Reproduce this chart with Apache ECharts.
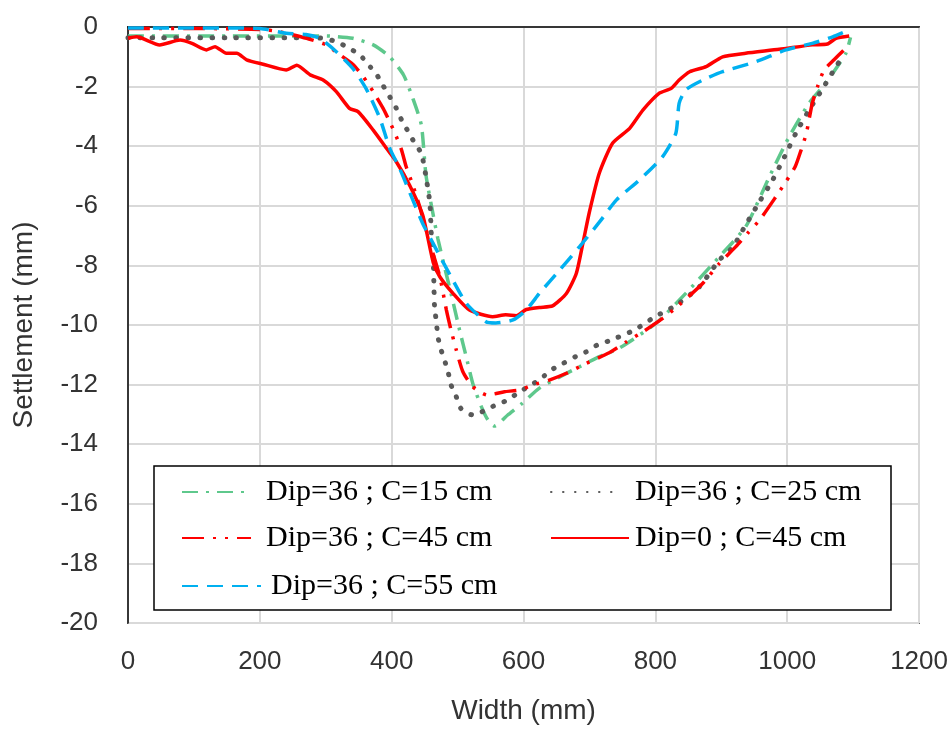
<!DOCTYPE html>
<html>
<head>
<meta charset="utf-8">
<script src="https://cdn.jsdelivr.net/npm/echarts@6/dist/echarts.min.js"></script>
<style>
  html, body { margin: 0; padding: 0; background: #fff; }
  #graph { width: 951px; height: 731px; }
</style>
</head>
<body>
<div id="graph"></div>
<script>
// values: width (mm) and settlement (mm)
const xTicks = [0, 200, 400, 600, 800, 1000, 1200];
const yTicks = [0, -2, -4, -6, -8, -10, -12, -14, -16, -18, -20];

const c15X = [0, 150, 300, 341, 372, 397, 418, 432, 445, 452, 463, 470, 480, 490, 503, 513, 523, 536, 546, 556, 576, 598, 624, 655, 685, 715, 745, 801, 846, 897, 937, 973, 1003, 1033, 1054, 1069, 1089, 1096];
const c15Y = [-0.3, -0.3, -0.3, -0.38, -0.6, -1.0, -1.61, -2.39, -3.29, -4.97, -6.31, -7.1, -8.04, -8.94, -10.17, -11.06, -11.96, -12.74, -13.19, -13.39, -13.02, -12.63, -12.12, -11.74, -11.4, -11.06, -10.78, -9.94, -8.94, -7.71, -6.7, -5.02, -3.68, -2.56, -2.0, -1.55, -0.88, -0.35];

const c25X = [0, 38, 150, 276, 296, 316, 336, 352, 364, 377, 387, 397, 407, 415, 425, 435, 445, 452, 458, 460, 463, 464, 465, 468, 470, 475, 480, 486, 490, 498, 505, 523, 543, 558, 576, 594, 612, 627, 642, 660, 679, 695, 712, 730, 768, 801, 819, 836, 867, 897, 917, 937, 958, 978, 996, 1013, 1033, 1054, 1074, 1086];
const c25Y = [-0.36, -0.36, -0.36, -0.36, -0.38, -0.49, -0.72, -0.94, -1.25, -1.59, -1.97, -2.34, -2.73, -3.12, -3.51, -3.9, -4.24, -5.02, -5.92, -6.92, -7.82, -8.6, -9.38, -9.94, -10.39, -10.84, -11.17, -11.62, -12.01, -12.41, -12.8, -13.02, -12.85, -12.68, -12.52, -12.24, -12.01, -11.79, -11.51, -11.29, -11.06, -10.9, -10.67, -10.53, -10.17, -9.7, -9.5, -9.27, -8.71, -7.82, -7.4, -6.64, -5.86, -5.13, -4.35, -3.57, -2.79, -2.06, -1.33, -0.94];

const c45X = [0, 100, 200, 230, 271, 301, 318, 341, 357, 372, 387, 397, 405, 415, 422, 432, 442, 458, 473, 483, 490, 498, 508, 523, 545, 571, 594, 614, 639, 665, 695, 730, 755, 781, 811, 836, 872, 897, 922, 940, 958, 983, 998, 1012, 1021, 1029, 1033, 1038, 1046, 1056, 1071, 1086];
const c45Y = [-0.05, -0.05, -0.08, -0.16, -0.38, -0.6, -0.88, -1.25, -1.67, -2.17, -2.73, -3.18, -3.57, -4.13, -4.69, -5.3, -6.0, -7.26, -8.38, -9.5, -10.17, -10.84, -11.57, -12.07, -12.35, -12.24, -12.18, -12.01, -11.85, -11.62, -11.29, -10.93, -10.58, -10.23, -9.78, -9.33, -8.6, -7.93, -7.37, -6.92, -6.48, -5.69, -5.19, -4.69, -4.13, -3.57, -3.12, -2.56, -2.0, -1.44, -1.1, -0.77];

const dip0X = [0, 13, 48, 79, 97, 119, 132, 149, 165, 180, 205, 240, 256, 276, 296, 316, 336, 349, 372, 392, 407, 427, 447, 463, 473, 493, 518, 553, 573, 589, 604, 624, 644, 665, 680, 690, 700, 715, 735, 761, 781, 806, 824, 836, 852, 877, 902, 937, 988, 1038, 1061, 1074, 1094];
const dip0Y = [-0.38, -0.33, -0.6, -0.44, -0.55, -0.77, -0.66, -0.88, -0.88, -1.1, -1.25, -1.44, -1.28, -1.6, -1.78, -2.17, -2.73, -2.84, -3.46, -4.07, -4.52, -5.3, -6.31, -7.9, -8.38, -8.94, -9.5, -9.72, -9.66, -9.69, -9.48, -9.41, -9.36, -8.94, -8.27, -7.26, -6.2, -4.9, -3.9, -3.4, -2.79, -2.22, -2.06, -1.78, -1.5, -1.33, -1.0, -0.88, -0.75, -0.6, -0.57, -0.38, -0.3];

const c55X = [0, 100, 200, 240, 270, 291, 316, 341, 361, 382, 397, 412, 432, 447, 468, 490, 513, 543, 558, 584, 604, 624, 655, 685, 715, 741, 776, 811, 831, 836, 846, 872, 902, 953, 998, 1038, 1069, 1096];
const c55Y = [-0.03, -0.03, -0.05, -0.21, -0.25, -0.38, -0.83, -1.39, -2.06, -3.06, -4.07, -4.74, -5.8, -6.59, -7.48, -8.38, -9.27, -9.89, -9.93, -9.83, -9.5, -8.94, -8.15, -7.37, -6.55, -5.8, -5.13, -4.35, -3.57, -2.56, -2.11, -1.78, -1.5, -1.16, -0.77, -0.55, -0.33, -0.08];

function pairs(xs, ys) {
  return xs.map((x, i) => [x, ys[i]]);
}

var chartDom = document.getElementById('graph');
var myChart = echarts.init(chartDom);
var option;

const labelFont = 'Liberation Sans, Arial, sans-serif';
const legendFont = 'Liberation Serif, Times New Roman, serif';

function legendAt(name, left, top, w, pad) {
  return {
    data: [name],
    left: left,
    top: top,
    padding: 0,
    itemWidth: w,
    itemHeight: 14,
    z: 10,
    selectedMode: false,
    // hide the marker dot, keep only the line
    itemStyle: { color: 'rgba(0,0,0,0)', borderWidth: 0, opacity: 0 },
    textStyle: {
      fontFamily: legendFont,
      fontSize: 30,
      color: '#000',
      lineHeight: 30,
      padding: [0, 0, 0, pad]
    }
  };
}

option = {
  backgroundColor: '#fff',
  animation: false,
  grid: {
    left: 128,
    right: 31,
    top: 27,
    bottom: 108,
    show: true,
    borderColor: '#000',
    borderWidth: 1.5
  },
  legend: [
    legendAt('Dip=36 ; C=15 cm', 181, 477, 67, 12),
    legendAt('Dip=36 ; C=25 cm', 550, 477, 72, 7),
    legendAt('Dip=36 ; C=45 cm', 181, 523, 69, 10),
    legendAt('Dip=0 ; C=45 cm', 550, 523, 78, 1),
    legendAt('Dip=36 ; C=55 cm', 181, 571, 79, 5)
  ],
  graphic: [{
    type: 'rect',
    shape: { x: 154, y: 466, width: 737, height: 144 },
    style: { fill: '#fff', stroke: '#000', lineWidth: 1.5 },
    z: 5
  }],
  xAxis: {
    type: 'value',
    min: 0,
    max: 1200,
    interval: 200,
    name: 'Width (mm)',
    nameLocation: 'middle',
    nameGap: 74,
    nameTextStyle: { fontFamily: labelFont, fontSize: 28, color: '#333' },
    axisLine: { show: true, lineStyle: { color: '#000', width: 1.5 } },
    axisTick: { show: false },
    axisLabel: {
      fontFamily: labelFont, fontSize: 26, color: '#333', margin: 26,
      formatter: v => String(v)
    },
    splitLine: { show: true, lineStyle: { color: '#d9d9d9', width: 2 } }
  },
  yAxis: {
    type: 'value',
    min: -20,
    max: 0,
    interval: 2,
    name: 'Settlement (mm)',
    nameLocation: 'middle',
    nameGap: 90,
    nameTextStyle: { fontFamily: labelFont, fontSize: 28, color: '#333' },
    axisLine: { show: true, lineStyle: { color: '#000', width: 1.5 } },
    axisTick: { show: false },
    axisLabel: {
      fontFamily: labelFont, fontSize: 26, color: '#333', margin: 30,
      formatter: v => String(v)
    },
    splitLine: { show: true, lineStyle: { color: '#d9d9d9', width: 2 } }
  },
  series: [
    {
      name: 'Dip=36 ; C=15 cm',
      type: 'line',
      data: pairs(c15X, c15Y),
      showSymbol: false,
      symbol: 'none',
      smooth: 0.2,
      color: '#5ec88c',
      lineStyle: { color: '#5ec88c', width: 3.5, type: [16, 8, 3, 8] }
    },
    {
      name: 'Dip=36 ; C=25 cm',
      type: 'line',
      data: pairs(c25X, c25Y),
      showSymbol: false,
      symbol: 'none',
      smooth: 0.2,
      color: '#595959',
      lineStyle: { color: '#595959', width: 5, type: [0.5, 11.5], cap: 'round' }
    },
    {
      name: 'Dip=36 ; C=45 cm',
      type: 'line',
      data: pairs(c45X, c45Y),
      showSymbol: false,
      symbol: 'none',
      smooth: 0.2,
      color: '#ff0000',
      lineStyle: { color: '#ff0000', width: 3.5, type: [22, 9, 3, 9, 3, 9] }
    },
    {
      name: 'Dip=0 ; C=45 cm',
      type: 'line',
      data: pairs(dip0X, dip0Y),
      showSymbol: false,
      symbol: 'none',
      smooth: 0.2,
      color: '#ff0000',
      lineStyle: { color: '#ff0000', width: 3.5, type: 'solid' }
    },
    {
      name: 'Dip=36 ; C=55 cm',
      type: 'line',
      data: pairs(c55X, c55Y),
      showSymbol: false,
      symbol: 'none',
      smooth: 0.2,
      color: '#00b0f0',
      lineStyle: { color: '#00b0f0', width: 3.5, type: [16, 9] }
    }
  ]
};

myChart.setOption(option);
</script>
</body>
</html>
